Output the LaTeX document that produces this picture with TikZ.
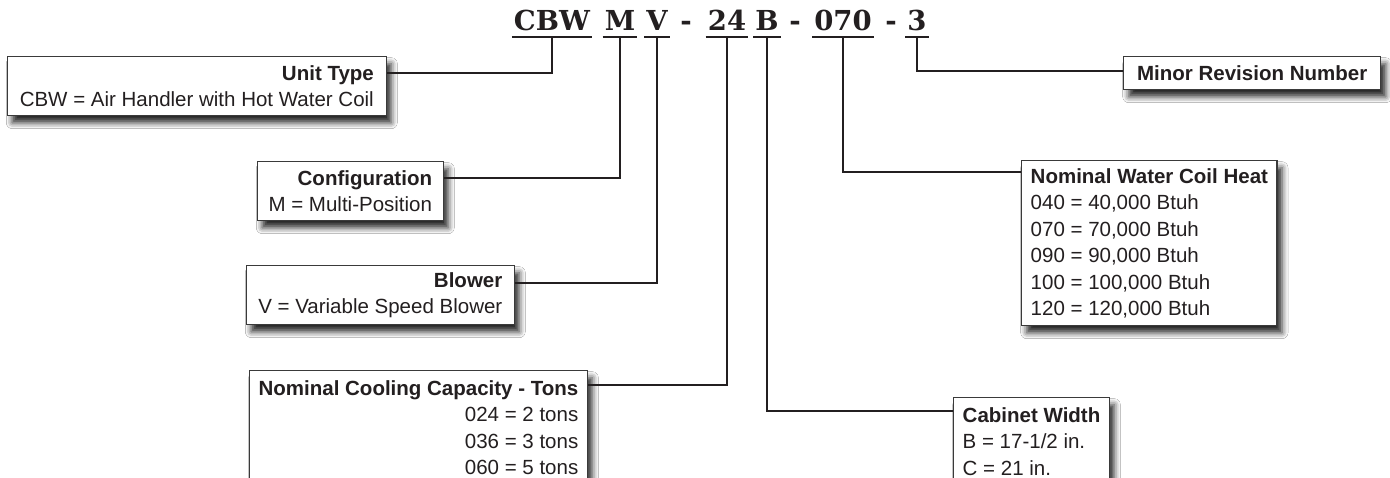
\documentclass[tikz,border=0pt]{standalone}
\usepackage{fontspec}
\setmainfont{Liberation Sans}
\newfontfamily\codefont{DejaVu Serif}
\usetikzlibrary{shadows.blur}
\definecolor{ink}{HTML}{231F20}
\definecolor{edge}{HTML}{3A3A3A}
\begin{document}
\begin{tikzpicture}[x=1pt,y=1pt,
  seg/.style={inner sep=0pt, anchor=base, font=\codefont\bfseries\fontsize{27.5}{30}\selectfont, text=ink},
  uline/.style={line width=2.2pt, draw=ink},
  conn/.style={line width=2.4pt, draw=ink},
  infobox/.style={draw=edge, line width=1.4pt, fill=white, text=ink,
    inner xsep=9pt, inner ysep=0pt,
    font=\fontsize{20.5}{26.5}\selectfont,
    blur shadow={shadow xshift=5pt, shadow yshift=-7pt, shadow blur radius=6pt, shadow opacity=85}},
  leftbox/.style={infobox, anchor=north east, align=right},
  rightbox/.style={infobox, anchor=north west, align=left}
]
\clip (0,0) rectangle (1390,-478);
\fill[white] (0,0) rectangle (1390,-478);

% code segments
\node[seg] (cbw) at (552,-31) {CBW};
\node[seg] (m)   at (620,-31) {M};
\node[seg] (v)   at (657,-31) {V};
\node[seg] (h1)  at (686,-31) {-};
\node[seg] (n24) at (727,-31) {24};
\node[seg] (b)   at (767,-31) {B};
\node[seg] (h2)  at (795,-31) {-};
\node[seg] (n070) at (843,-31) {070};
\node[seg] (h3)  at (891,-31) {-};
\node[seg] (n3)  at (917,-31) {3};

\foreach \s in {cbw,m,v,n24,b,n070,n3}{
  \draw[uline] ([xshift=-2pt,yshift=-6pt]\s.base west) -- ([xshift=2pt,yshift=-6pt]\s.base east);
}

% boxes
\node[leftbox, minimum width=379pt, minimum height=59pt] (unit) at (387,-56)
  {\textbf{Unit Type}\\CBW = Air Handler with Hot Water Coil};
\node[leftbox, minimum width=186pt, minimum height=59pt] (config) at (444,-161)
  {\textbf{Configuration}\\M = Multi-Position};
\node[leftbox, minimum width=268pt, minimum height=59pt] (blower) at (515,-265)
  {\textbf{Blower}\\V = Variable Speed Blower};
\node[leftbox, minimum width=333pt, minimum height=114pt] (cool) at (588,-370)
  {\textbf{Nominal Cooling Capacity - Tons}\\024 = 2 tons\\036 = 3 tons\\060 = 5 tons};
\node[rightbox, minimum width=255pt, minimum height=165pt] (water) at (1021,-160)
  {\textbf{Nominal Water Coil Heat}\\040 = 40,000 Btuh\\070 = 70,000 Btuh\\090 = 90,000 Btuh\\100 = 100,000 Btuh\\120 = 120,000 Btuh};
\node[rightbox, minimum width=150pt, minimum height=87pt] (cab) at (953,-397)
  {\textbf{Cabinet Width}\\B = 17-1/2 in.\\C = 21 in.};
\node[rightbox, minimum width=257pt, minimum height=33pt] (minor) at (1123,-56)
  {\textbf{Minor Revision Number}};

% connectors
\draw[conn] ([yshift=-6pt]cbw.base) |- ([yshift=-17pt]unit.north east);
\draw[conn] ([yshift=-6pt]m.base) |- ([yshift=-17pt]config.north east);
\draw[conn] ([yshift=-6pt]v.base) |- ([yshift=-18pt]blower.north east);
\draw[conn] ([yshift=-6pt]n24.base) |- ([yshift=-15pt]cool.north east);
\draw[conn] ([yshift=-6pt]b.base) |- ([yshift=-14pt]cab.north west);
\draw[conn] ([yshift=-6pt]n070.base) |- ([yshift=-12pt]water.north west);
\draw[conn] ([yshift=-6pt]n3.base) |- ([yshift=-15pt]minor.north west);
\end{tikzpicture}
\end{document}
